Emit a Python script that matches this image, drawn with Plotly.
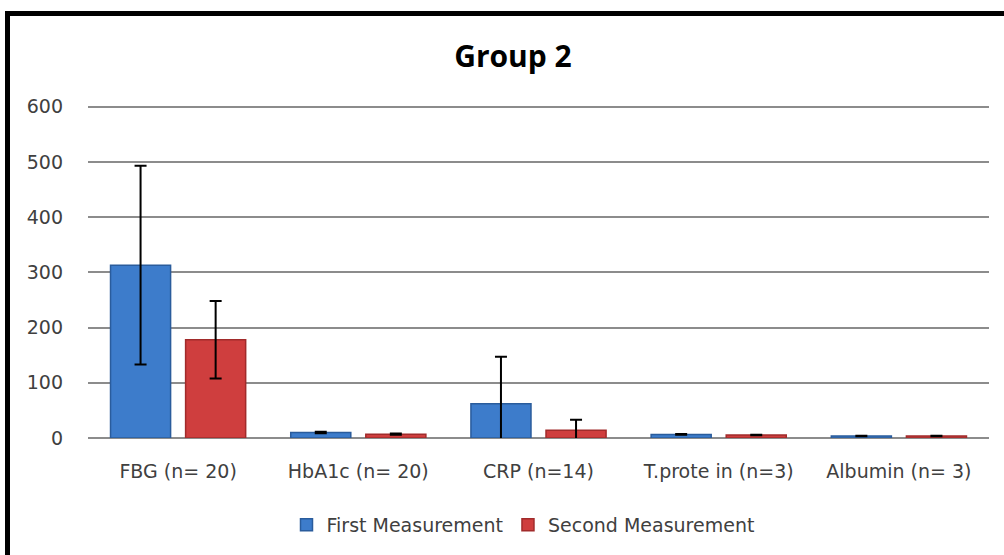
import plotly.graph_objects as go

categories = ["FBG (n= 20)", "HbA1c (n= 20)", "CRP (n=14)", "T.prote in (n=3)", "Albumin (n= 3)"]
first_mean = [313, 10, 62, 6.5, 3.6]
first_sd = [180, 1.5, 85, 0.8, 0.4]
second_mean = [178, 7, 14, 5.5, 3.8]
second_sd = [70, 1.2, 19, 0.6, 0.5]
y_ticks = [0, 100, 200, 300, 400, 500, 600]

font_family = "DejaVu Sans"
txt = "#404040"

fig = go.Figure()
fig.add_trace(go.Bar(
    x=categories, y=first_mean, name="First Measurement",
    marker=dict(color="#3D7CCB", line=dict(color="#2A5C9C", width=1.5)),
    error_y=dict(type="data", array=first_sd, visible=True, color="black", thickness=2, width=6),
))
fig.add_trace(go.Bar(
    x=categories, y=second_mean, name="Second Measurement",
    marker=dict(color="#CF3E3E", line=dict(color="#A12B2B", width=1.5)),
    error_y=dict(type="data", array=second_sd, visible=True, color="black", thickness=2, width=6),
))

L, R, T, B = 88, 15, 104, 117
W, H = 1004, 555
pw, ph = W - L - R, H - T - B

def fx(px):
    return (px - L) / pw

def fy(py):
    return 1 - (py - T) / ph

fig.update_layout(
    width=W, height=H,
    margin=dict(l=L, r=R, t=T, b=B, autoexpand=False),
    paper_bgcolor="white", plot_bgcolor="white",
    barmode="group", bargap=0.1667, bargroupgap=0.2,
    title=dict(text="<b>Group 2</b>", x=513 / W, xanchor="center",
               y=1 - 56 / H, yanchor="middle",
               font=dict(family="Open Sans", size=30, color="black")),
    font=dict(family=font_family, size=19, color=txt),
    showlegend=True,
    legend=dict(orientation="h", x=fx(523), xanchor="center", y=fy(525), yanchor="middle",
                font=dict(family=font_family, size=19, color=txt),
                itemwidth=30, traceorder="normal"),
    xaxis=dict(showgrid=False, showline=False, ticks="", automargin=False, ticklabelstandoff=20,
               tickfont=dict(size=19, color=txt)),
    yaxis=dict(range=[0, 605], tickvals=y_ticks, showgrid=True, gridcolor="#8C8C8C", gridwidth=1.5,
               zeroline=True, zerolinecolor="#8C8C8C", zerolinewidth=2, automargin=False,
               showline=False, ticks="", ticklabelstandoff=24,
               tickfont=dict(size=19, color=txt)),
    shapes=[
        dict(type="line", xref="paper", yref="paper", x0=fx(5), x1=fx(1010), y0=fy(13.5), y1=fy(13.5),
             line=dict(color="black", width=5)),
        dict(type="line", xref="paper", yref="paper", x0=fx(7.5), x1=fx(7.5), y0=fy(11), y1=fy(560),
             line=dict(color="black", width=5)),
    ],
)

fig.write_html("out.html", config={"displayModeBar": False},
               post_script="document.body.style.margin='0';document.body.style.overflow='hidden';")
